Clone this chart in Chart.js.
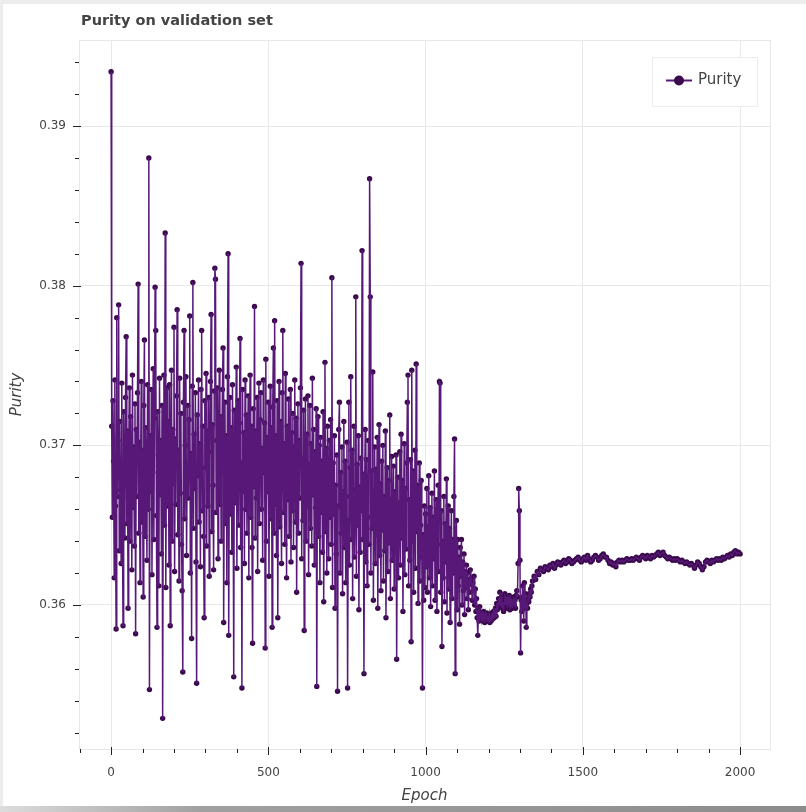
<!DOCTYPE html>
<html>
<head>
<meta charset="utf-8">
<title>Purity on validation set</title>
<script src="https://cdn.jsdelivr.net/npm/chart.js@4.4.0/dist/chart.umd.min.js"></script>
<style>
  html, body { margin: 0; padding: 0; background: #ffffff; }
  canvas { display: block; }
</style>
</head>
<body>
<canvas id="chart" width="806" height="812"></canvas>
<script>
// Validation purity.
// Epochs 0..1338 are logged every DENSE_STEP epochs, epochs 1340..2000 every STEADY_STEP.
const DENSE_STEP = 2;
const DENSE_COUNT = 670;
const STEADY_START = 1340;
const STEADY_STEP = 5;

const purity = [
  // 0 - 198
  0.3934, 0.3712, 0.3655, 0.3728, 0.3690, 0.3617, 0.3741, 0.3662, 0.3585, 0.3780,
  0.3668, 0.3703, 0.3788, 0.3634, 0.3715, 0.3672, 0.3626, 0.3739, 0.3655, 0.3587,
  0.3721, 0.3684, 0.3642, 0.3730, 0.3768, 0.3651, 0.3709, 0.3598, 0.3692, 0.3736,
  0.3640, 0.3718, 0.3676, 0.3622, 0.3744, 0.3661, 0.3699, 0.3637, 0.3726, 0.3582,
  0.3710, 0.3668, 0.3733, 0.3801, 0.3645, 0.3702, 0.3614, 0.3688, 0.3740, 0.3652,
  0.3697, 0.3605, 0.3725, 0.3766, 0.3643, 0.3711, 0.3679, 0.3628, 0.3738, 0.3660,
  0.3880, 0.3547, 0.3706, 0.3671, 0.3735, 0.3619, 0.3694, 0.3748, 0.3641, 0.3717,
  0.3799, 0.3772, 0.3656, 0.3586, 0.3721, 0.3683, 0.3612, 0.3742, 0.3669, 0.3703,
  0.3632, 0.3725, 0.3529, 0.3687, 0.3744, 0.3650, 0.3833, 0.3611, 0.3698, 0.3736,
  0.3662, 0.3715, 0.3625, 0.3738, 0.3587, 0.3693, 0.3747, 0.3640, 0.3710, 0.3676,
  // 200 - 398
  0.3774, 0.3621, 0.3704, 0.3663, 0.3731, 0.3785, 0.3644, 0.3697, 0.3615, 0.3742,
  0.3670, 0.3720, 0.3638, 0.3609, 0.3558, 0.3727, 0.3772, 0.3654, 0.3700, 0.3743,
  0.3631, 0.3688, 0.3725, 0.3667, 0.3716, 0.3781, 0.3620, 0.3695, 0.3579, 0.3737,
  0.3802, 0.3648, 0.3707, 0.3673, 0.3733, 0.3627, 0.3551, 0.3719, 0.3681, 0.3741,
  0.3652, 0.3701, 0.3624, 0.3735, 0.3772, 0.3659, 0.3712, 0.3643, 0.3592, 0.3728,
  0.3686, 0.3745, 0.3637, 0.3709, 0.3662, 0.3730, 0.3618, 0.3696, 0.3740, 0.3782,
  0.3646, 0.3713, 0.3675, 0.3622, 0.3734, 0.3811, 0.3804, 0.3658, 0.3703, 0.3736,
  0.3629, 0.3690, 0.3747, 0.3663, 0.3718, 0.3640, 0.3698, 0.3735, 0.3761, 0.3589,
  0.3684, 0.3727, 0.3651, 0.3706, 0.3614, 0.3743, 0.3820, 0.3581, 0.3692, 0.3730,
  0.3657, 0.3711, 0.3633, 0.3738, 0.3679, 0.3555, 0.3722, 0.3664, 0.3705, 0.3749,
  // 400 - 598
  0.3623, 0.3697, 0.3728, 0.3650, 0.3714, 0.3767, 0.3636, 0.3689, 0.3548, 0.3735,
  0.3671, 0.3708, 0.3626, 0.3741, 0.3660, 0.3719, 0.3645, 0.3693, 0.3731, 0.3617,
  0.3702, 0.3744, 0.3655, 0.3712, 0.3636, 0.3576, 0.3723, 0.3674, 0.3787, 0.3642,
  0.3709, 0.3667, 0.3730, 0.3621, 0.3695, 0.3739, 0.3651, 0.3716, 0.3733, 0.3660,
  0.3698, 0.3628, 0.3741, 0.3683, 0.3714, 0.3573, 0.3754, 0.3640, 0.3705, 0.3671,
  0.3727, 0.3618, 0.3690, 0.3737, 0.3654, 0.3711, 0.3586, 0.3724, 0.3761, 0.3645,
  0.3778, 0.3663, 0.3706, 0.3631, 0.3728, 0.3592, 0.3687, 0.3740, 0.3649, 0.3715,
  0.3672, 0.3626, 0.3733, 0.3772, 0.3658, 0.3701, 0.3638, 0.3745, 0.3680, 0.3617,
  0.3712, 0.3666, 0.3729, 0.3643, 0.3694, 0.3735, 0.3627, 0.3708, 0.3659, 0.3720,
  0.3636, 0.3699, 0.3741, 0.3652, 0.3717, 0.3608, 0.3684, 0.3726, 0.3645, 0.3703,
  // 600 - 798
  0.3667, 0.3736, 0.3814, 0.3629, 0.3692, 0.3653, 0.3722, 0.3584, 0.3675, 0.3729,
  0.3640, 0.3707, 0.3662, 0.3731, 0.3619, 0.3688, 0.3725, 0.3648, 0.3701, 0.3637,
  0.3742, 0.3669, 0.3710, 0.3625, 0.3696, 0.3661, 0.3723, 0.3549, 0.3684, 0.3718,
  0.3643, 0.3700, 0.3614, 0.3705, 0.3658, 0.3690, 0.3633, 0.3721, 0.3602, 0.3677,
  0.3752, 0.3646, 0.3698, 0.3620, 0.3712, 0.3668, 0.3629, 0.3703, 0.3655, 0.3716,
  0.3638, 0.3805, 0.3611, 0.3689, 0.3657, 0.3706, 0.3598, 0.3675, 0.3632, 0.3694,
  0.3546, 0.3662, 0.3710, 0.3727, 0.3620, 0.3683, 0.3645, 0.3699, 0.3607, 0.3671,
  0.3715, 0.3636, 0.3690, 0.3614, 0.3668, 0.3702, 0.3548, 0.3653, 0.3727, 0.3625,
  0.3686, 0.3743, 0.3641, 0.3697, 0.3604, 0.3672, 0.3712, 0.3630, 0.3664, 0.3793,
  0.3618, 0.3688, 0.3650, 0.3706, 0.3597, 0.3674, 0.3633, 0.3692, 0.3659, 0.3822,
  // 800 - 998
  0.3641, 0.3682, 0.3557, 0.3669, 0.3710, 0.3627, 0.3691, 0.3612, 0.3655, 0.3703,
  0.3638, 0.3867, 0.3793, 0.3620, 0.3684, 0.3648, 0.3746, 0.3603, 0.3671, 0.3699,
  0.3626, 0.3685, 0.3644, 0.3705, 0.3598, 0.3662, 0.3713, 0.3631, 0.3676, 0.3609,
  0.3690, 0.3647, 0.3700, 0.3615, 0.3668, 0.3634, 0.3709, 0.3592, 0.3657, 0.3686,
  0.3621, 0.3678, 0.3639, 0.3719, 0.3604, 0.3666, 0.3693, 0.3628, 0.3652, 0.3687,
  0.3610, 0.3671, 0.3633, 0.3694, 0.3566, 0.3649, 0.3680, 0.3617, 0.3664, 0.3696,
  0.3625, 0.3707, 0.3642, 0.3678, 0.3596, 0.3659, 0.3701, 0.3619, 0.3673, 0.3635,
  0.3689, 0.3727, 0.3744, 0.3612, 0.3666, 0.3628, 0.3691, 0.3577, 0.3747, 0.3640,
  0.3684, 0.3608, 0.3662, 0.3697, 0.3623, 0.3751, 0.3646, 0.3675, 0.3601, 0.3658,
  0.3689, 0.3615, 0.3650, 0.3678, 0.3630, 0.3548, 0.3644, 0.3603, 0.3662, 0.3611,
  // 1000 - 1198
  0.3657, 0.3624, 0.3673, 0.3608, 0.3649, 0.3681, 0.3617, 0.3661, 0.3599, 0.3642,
  0.3670, 0.3612, 0.3655, 0.3629, 0.3684, 0.3603, 0.3647, 0.3666, 0.3596, 0.3638,
  0.3675, 0.3621, 0.3740, 0.3739, 0.3608, 0.3659, 0.3574, 0.3640, 0.3617, 0.3668,
  0.3602, 0.3651, 0.3627, 0.3679, 0.3595, 0.3638, 0.3662, 0.3610, 0.3648, 0.3589,
  0.3635, 0.3659, 0.3604, 0.3641, 0.3620, 0.3668, 0.3704, 0.3557, 0.3631, 0.3653,
  0.3597, 0.3641, 0.3612, 0.3630, 0.3588, 0.3636, 0.3618, 0.3641, 0.3600, 0.3627,
  0.3609, 0.3632, 0.3594, 0.3621, 0.3611, 0.3625, 0.3604, 0.3620, 0.3597, 0.3616,
  0.3608, 0.3622, 0.3613, 0.3617, 0.3603, 0.3614, 0.3609, 0.3618, 0.3600, 0.3610,
  0.3596, 0.3604, 0.3592, 0.3581, 0.3597, 0.3590, 0.3599, 0.3593, 0.3595, 0.3591,
  0.3594, 0.3590, 0.3596, 0.3592, 0.3589, 0.3594, 0.3591, 0.3595, 0.3590, 0.3593,
  // 1200 - 1338
  0.3591, 0.3594, 0.3589, 0.3592, 0.3590, 0.3595, 0.3591, 0.3593, 0.3596, 0.3592,
  0.3594, 0.3598, 0.3593, 0.3601, 0.3597, 0.3599, 0.3604, 0.3600, 0.3608, 0.3603,
  0.3599, 0.3605, 0.3598, 0.3602, 0.3596, 0.3601, 0.3607, 0.3600, 0.3604, 0.3605,
  0.3598, 0.3603, 0.3600, 0.3606, 0.3597, 0.3602, 0.3599, 0.3604, 0.3598, 0.3601,
  0.3605, 0.3600, 0.3603, 0.3598, 0.3606, 0.3609, 0.3605, 0.3626, 0.3673, 0.3659,
  0.3628, 0.3570, 0.3603, 0.3596, 0.3612, 0.3605, 0.3590, 0.3614, 0.3598, 0.3607,
  0.3586, 0.3601, 0.3598, 0.3604, 0.3602, 0.3607, 0.3605, 0.3610, 0.3608, 0.3612,
  // 1340 - 2000 (every 5 epochs)
  0.3615, 0.3618,
  0.3616, 0.3621, 0.3619, 0.3623, 0.3622, 0.3621, 0.3624, 0.3623, 0.3622, 0.3625,
  0.3624, 0.3626, 0.3623, 0.3625, 0.3627, 0.3626, 0.3625, 0.3627, 0.3628, 0.3626,
  0.3627, 0.3629, 0.3628, 0.3626, 0.3627, 0.3628, 0.3629, 0.3630, 0.3628, 0.3627,
  0.3629, 0.3630, 0.3628, 0.3631, 0.3629, 0.3627, 0.3628, 0.3630, 0.3631, 0.3630,
  0.3628, 0.3629, 0.3631, 0.3632, 0.3630, 0.3630, 0.3628, 0.3626, 0.3627, 0.3625,
  0.3626, 0.3624, 0.3627, 0.3628, 0.3627, 0.3628, 0.3627, 0.3628, 0.3629, 0.3628,
  0.3628, 0.3629, 0.3628, 0.3629, 0.3630, 0.3629, 0.3628, 0.3630, 0.3631, 0.3630,
  0.3629, 0.3631, 0.3630, 0.3629, 0.3631, 0.3630, 0.3631, 0.3632, 0.3633, 0.3631,
  0.3632, 0.3633, 0.3631, 0.3630, 0.3629, 0.3630, 0.3629, 0.3628, 0.3629, 0.3628,
  0.3629, 0.3628, 0.3627, 0.3628, 0.3627, 0.3626, 0.3627, 0.3626, 0.3625, 0.3626,
  0.3625, 0.3623, 0.3625, 0.3627, 0.3626, 0.3624, 0.3622, 0.3624, 0.3627, 0.3628,
  0.3627, 0.3626, 0.3628, 0.3627, 0.3628, 0.3629, 0.3628, 0.3629, 0.3628, 0.3630,
  0.3629, 0.3630, 0.3631, 0.3630, 0.3632, 0.3631, 0.3633, 0.3634, 0.3632, 0.3633,
  0.3632
];
const epochs = purity.map((_, i) =>
  i < DENSE_COUNT ? i * DENSE_STEP : STEADY_START + (i - DENSE_COUNT) * STEADY_STEP);

// Axis ticks
const xMajorTicks = [0, 500, 1000, 1500, 2000];
const yMajorTicks = [0.36, 0.37, 0.38, 0.39];
const xMinorTicks = [-100, 100, 200, 300, 400, 600, 700, 800, 900, 1100, 1200, 1300, 1400,
                     1600, 1700, 1800, 1900];
const yMinorTicks = [0.352, 0.354, 0.356, 0.358, 0.362, 0.364, 0.366, 0.368, 0.372, 0.374,
                     0.376, 0.378, 0.382, 0.384, 0.386, 0.388, 0.392, 0.394];

const seriesLabel = 'Purity';
const chartTitle = 'Purity on validation set';
const xTitle = 'Epoch';
const yTitle = 'Purity';

const LINE_COLOR = '#571878';
const POINT_COLOR = '#3a0a4c';
const TEXT_COLOR = '#444444';
const GRID_COLOR = '#e8e8e8';
const AXIS_COLOR = '#222222';
const FONT = "'DejaVu Sans', Verdana, sans-serif";

Chart.defaults.font.family = FONT;

const points = epochs.map((e, i) => ({ x: e, y: purity[i] }));

// Page frame, plot outline, minor ticks, title and legend
const decorations = {
  id: 'decorations',
  beforeDraw(chart) {
    const { ctx, width, height } = chart;
    ctx.save();
    ctx.fillStyle = '#ffffff';
    ctx.fillRect(0, 0, width, height);
    ctx.fillStyle = '#ececec';
    ctx.fillRect(0, 0, width, 4);
    ctx.fillRect(0, 0, 3, height);
    const g = ctx.createLinearGradient(0, 0, width, 0);
    g.addColorStop(0, '#dcdcdc');
    g.addColorStop(0.25, '#a0a0a0');
    g.addColorStop(1, '#8c8c8c');
    ctx.fillStyle = g;
    ctx.fillRect(0, height - 6, width, 6);
    ctx.restore();
  },
  beforeDatasetsDraw(chart) {
    const { ctx, chartArea: a } = chart;
    ctx.save();
    ctx.strokeStyle = GRID_COLOR;
    ctx.lineWidth = 1;
    ctx.strokeRect(a.left + 0.5, a.top + 0.5, a.right - a.left, a.bottom - a.top);
    ctx.restore();
  },
  afterDraw(chart) {
    const { ctx, chartArea: a } = chart;
    const xs = chart.scales.x, ys = chart.scales.y;
    ctx.save();
    ctx.strokeStyle = AXIS_COLOR;
    ctx.lineWidth = 1;
    ctx.beginPath();
    xMajorTicks.forEach(v => {
      const px = Math.round(xs.getPixelForValue(v)) + 0.5;
      ctx.moveTo(px, a.bottom - 2); ctx.lineTo(px, a.bottom + 6);
    });
    xMinorTicks.forEach(v => {
      const px = Math.round(xs.getPixelForValue(v)) + 0.5;
      ctx.moveTo(px, a.bottom); ctx.lineTo(px, a.bottom + 4);
    });
    yMajorTicks.forEach(v => {
      const py = Math.round(ys.getPixelForValue(v)) + 0.5;
      ctx.moveTo(a.left - 6, py); ctx.lineTo(a.left + 2, py);
    });
    yMinorTicks.forEach(v => {
      const py = Math.round(ys.getPixelForValue(v)) + 0.5;
      ctx.moveTo(a.left - 4, py); ctx.lineTo(a.left, py);
    });
    ctx.stroke();

    // Title
    ctx.fillStyle = TEXT_COLOR;
    ctx.font = `bold 14.5px ${FONT}`;
    ctx.textAlign = 'left';
    ctx.textBaseline = 'middle';
    ctx.fillText(chartTitle, a.left + 2, 21);

    // Legend
    const lx = 652, ly = 57, lw = 105, lh = 49;
    ctx.fillStyle = '#ffffff';
    ctx.fillRect(lx, ly, lw, lh);
    ctx.strokeStyle = '#ececec';
    ctx.strokeRect(lx + 0.5, ly + 0.5, lw, lh);
    const cy = ly + lh / 2 - 1;
    ctx.strokeStyle = LINE_COLOR;
    ctx.lineWidth = 2;
    ctx.beginPath();
    ctx.moveTo(lx + 14, cy); ctx.lineTo(lx + 40, cy);
    ctx.stroke();
    ctx.fillStyle = POINT_COLOR;
    ctx.beginPath();
    ctx.arc(lx + 27, cy, 5, 0, Math.PI * 2);
    ctx.fill();
    ctx.fillStyle = TEXT_COLOR;
    ctx.font = `15px ${FONT}`;
    ctx.textBaseline = 'middle';
    ctx.fillText(seriesLabel, lx + 46, cy);
    ctx.restore();
  }
};

new Chart(document.getElementById('chart'), {
  type: 'line',
  data: {
    datasets: [
      {
        // connecting line, drawn above the markers
        label: seriesLabel,
        data: points,
        order: 1,
        borderColor: LINE_COLOR,
        borderWidth: 1.5,
        tension: 0,
        pointRadius: 0,
        pointHoverRadius: 0,
        fill: false
      },
      {
        // circle markers
        label: seriesLabel,
        data: points,
        order: 2,
        showLine: false,
        pointRadius: 2.7,
        pointHoverRadius: 0,
        pointBorderWidth: 0,
        pointBackgroundColor: POINT_COLOR,
        pointBorderColor: POINT_COLOR
      }
    ]
  },
  options: {
    responsive: false,
    animation: false,
    devicePixelRatio: 1,
    layout: { padding: { top: 40, right: 36, bottom: 0, left: 0 } },
    plugins: {
      legend: { display: false },
      tooltip: { enabled: false },
      title: { display: false }
    },
    scales: {
      x: {
        type: 'linear',
        position: 'bottom',
        min: -102,
        max: 2095,
        afterBuildTicks(s) { s.ticks = xMajorTicks.map(v => ({ value: v })); },
        afterFit(s) { s.height = 63; },
        grid: { color: GRID_COLOR, drawTicks: false },
        border: { display: true, color: AXIS_COLOR, width: 1 },
        ticks: {
          padding: 17,
          color: TEXT_COLOR,
          font: { size: 12 },
          maxRotation: 0,
          callback: v => String(v)
        },
        title: {
          display: true,
          text: xTitle,
          color: TEXT_COLOR,
          font: { size: 15, style: 'italic' },
          padding: { top: 0, bottom: 7 }
        }
      },
      y: {
        type: 'linear',
        position: 'left',
        min: 0.35098,
        max: 0.39539,
        afterBuildTicks(s) { s.ticks = yMajorTicks.map(v => ({ value: v })); },
        afterFit(s) { s.width = 79; },
        grid: { color: GRID_COLOR, drawTicks: false },
        border: { display: true, color: AXIS_COLOR, width: 1 },
        ticks: {
          padding: 13,
          color: TEXT_COLOR,
          font: { size: 12 },
          callback: v => v.toFixed(2)
        },
        title: {
          display: true,
          text: yTitle,
          color: TEXT_COLOR,
          font: { size: 15, style: 'italic' },
          padding: { top: 8, bottom: 0 }
        }
      }
    }
  },
  plugins: [decorations]
});
</script>
</body>
</html>
